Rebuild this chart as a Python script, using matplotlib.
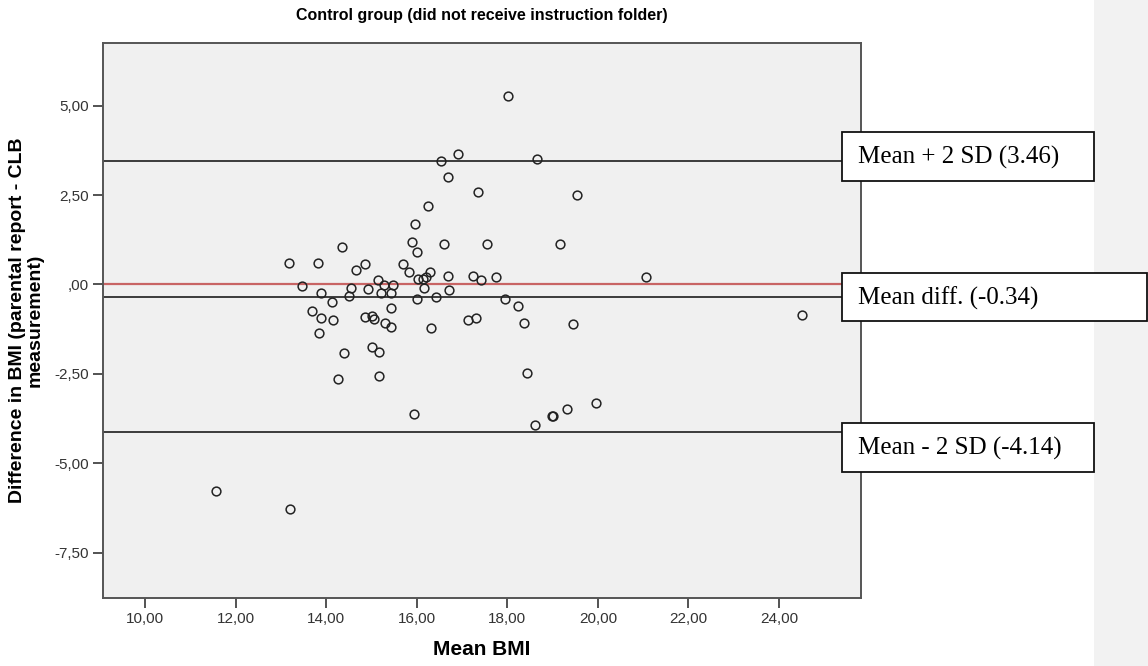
import matplotlib
matplotlib.use('Agg')
import matplotlib.pyplot as plt
from matplotlib.patches import Rectangle

# Bland-Altman data: mean BMI vs difference (parent report - CLB)
mean_bmi = [11.57, 13.20, 13.17, 13.47, 13.82, 13.89, 14.13, 13.69, 13.89, 14.16,
            13.83, 14.35, 14.39, 14.25, 14.51, 14.55, 14.66, 14.85, 14.93, 14.86,
            15.00, 15.06, 15.01, 15.16, 15.17, 15.14, 15.28, 15.47, 15.43, 15.21,
            15.44, 15.30, 15.44, 15.69, 15.82, 15.90, 15.95, 16.01, 16.25, 16.03,
            16.14, 16.20, 16.17, 16.00, 16.29, 16.31, 16.42, 16.53, 16.59, 16.70,
            16.68, 16.72, 16.92, 17.12, 17.30, 17.25, 17.41, 17.36, 17.56, 17.74,
            18.02, 17.95, 18.23, 18.36, 18.44, 18.65, 18.62, 18.98, 19.01, 19.31,
            19.16, 19.46, 19.54, 19.95, 21.06, 24.50, 15.93]
diff_bmi = [-5.77, -6.28, 0.60, -0.05, 0.60, -0.23, -0.49, -0.74, -0.93, -1.00,
            -1.36, 1.04, -1.92, -2.64, -0.32, -0.11, 0.41, 0.57, -0.13, -0.90,
            -0.88, -0.96, -1.76, -1.90, -2.57, 0.13, -0.01, -0.03, -0.25, -0.24,
            -0.65, -1.07, -1.20, 0.57, 0.34, 1.20, 1.68, 0.92, 2.20, 0.15,
            0.15, 0.20, -0.11, -0.41, 0.34, -1.22, -0.36, 3.45, 1.13, 3.00,
            0.24, -0.17, 3.64, -1.00, -0.94, 0.23, 0.12, 2.58, 1.14, 0.22,
            5.27, -0.41, -0.59, -1.09, -2.48, 3.50, -3.93, -3.68, -3.68, -3.48,
            1.14, -1.10, 2.50, -3.31, 0.22, -0.85, -3.63]

# reference lines
limit_values = [3.46, -0.34, -4.14]
limit_labels = ['Mean + 2 SD (3.46)', 'Mean diff. (-0.34)', 'Mean - 2 SD (-4.14)']

xticks = [10, 12, 14, 16, 18, 20, 22, 24]
xtick_labels = ['10,00', '12,00', '14,00', '16,00', '18,00', '20,00', '22,00', '24,00']
yticks = [5, 2.5, 0, -2.5, -5, -7.5]
ytick_labels = ['5,00', '2,50', ',00', '-2,50', '-5,00', '-7,50']

W, H = 1148, 666
fig = plt.figure(figsize=(W / 100, H / 100), dpi=100)
fig.patch.set_facecolor('white')

# grey comment pane on the right
fig.add_artist(Rectangle((1094 / W, 0), 54 / W, 1, transform=fig.transFigure,
                         facecolor='#f2f2f2', edgecolor='none', zorder=0))

ax = fig.add_axes([103 / W, 1 - 598 / H, (861 - 103) / W, (598 - 42.7) / H])
ax.set_facecolor('#f0f0f0')
ax.set_xlim(9.07, 25.81)
ax.set_ylim(-8.77, 6.76)

ax.axhline(0, color='#c86464', lw=1.6, zorder=2)
for v in limit_values:
    ax.axhline(v, color='#3c3c3c', lw=1.4, zorder=2)

ax.plot(mean_bmi, diff_bmi, 'o', ms=6.3, mfc='none', mec='#222222', mew=1.1, zorder=3)

for s in ax.spines.values():
    s.set_color('#555555')
    s.set_linewidth(1.4)

ax.set_xticks(xticks)
ax.set_xticklabels(xtick_labels)
ax.set_yticks(yticks)
ax.set_yticklabels(ytick_labels)
ax.tick_params(direction='out', length=7, width=1.3, color='#444444',
               labelsize=11, labelcolor='#333333', pad=3)
for lab in ax.get_xticklabels() + ax.get_yticklabels():
    lab.set_family('Liberation Sans')

ax.set_xlabel('Mean BMI', fontsize=15, fontweight='bold', family='Liberation Sans', labelpad=10)
ax.set_ylabel('Difference in BMI (parental report - CLB\nmeasurement)', fontsize=14,
              fontweight='bold', family='Liberation Sans', labelpad=8, linespacing=1.05)
ax.set_title('Control group (did not receive instruction folder)', fontsize=11.5,
             fontweight='bold', family='Liberation Sans', pad=16)

# annotation boxes (pixel positions of the boxes in the figure)
boxes = [(841.7, 132.3, 1094, 180.7), (841.7, 272.7, 1146.7, 321), (841.7, 423.3, 1094, 471.7)]
for (x0, y0, x1, y1), lab in zip(boxes, limit_labels):
    fig.add_artist(Rectangle((x0 / W, 1 - y1 / H), (x1 - x0) / W, (y1 - y0) / H,
                             transform=fig.transFigure, facecolor='white',
                             edgecolor='#111111', lw=1.3, zorder=5))
    fig.text(858 / W, 1 - ((y0 + y1) / 2 + 1) / H, lab, fontsize=18, family='Liberation Serif',
             va='center', ha='left', zorder=6)

fig.savefig('out.png', dpi=100)
